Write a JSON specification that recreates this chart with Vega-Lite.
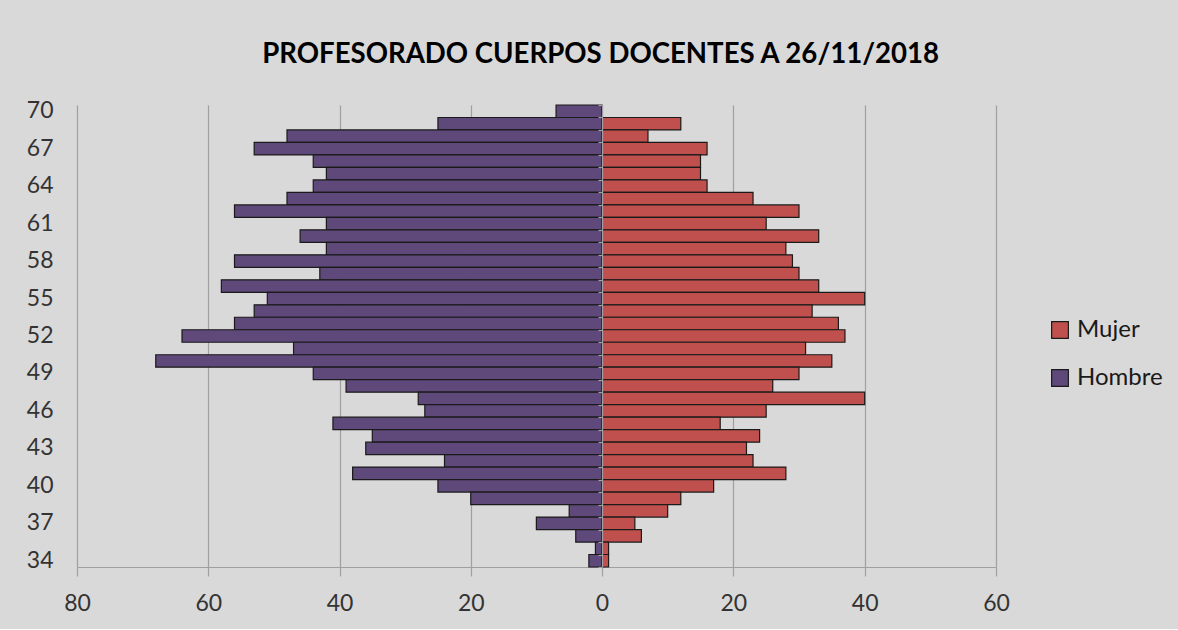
{
  "$schema": "https://vega.github.io/schema/vega-lite/v6.json",
  "background": "#d9d9d9",
  "padding": {"left": 26, "top": 41, "right": 17, "bottom": 14},
  "title": {
    "text": "PROFESORADO CUERPOS DOCENTES A 26/11/2018",
    "font": "Lato",
    "fontSize": 27.6,
    "fontWeight": "bold",
    "color": "#000000",
    "anchor": "middle",
    "offset": 31,
    "dx": 6
  },
  "config": {
    "view": {"stroke": null},
    "font": "Lato",
    "axis": {
      "labelFont": "Lato",
      "labelFontSize": 23,
      "labelColor": "#333333",
      "labelFlush": false,
      "labelOverlap": false,
      "gridColor": "#a0a0a0",
      "gridWidth": 1.2,
      "domainColor": "#a0a0a0",
      "domainWidth": 1.2,
      "tickColor": "#a0a0a0",
      "tickWidth": 1.2,
      "title": null
    },
    "legend": {
      "orient": "none",
      "legendX": 971,
      "legendY": 213,
      "title": null,
      "labelFont": "Lato",
      "labelFontSize": 24,
      "labelColor": "#1a1a1a",
      "symbolType": "square",
      "symbolSize": 280,
      "symbolStrokeColor": "#1a1a1a",
      "symbolStrokeWidth": 1.2,
      "rowPadding": 24,
      "labelOffset": 5
    }
  },
  "data": {
    "values": [
      {"edad": 70, "sexo": "Hombre", "n": 7}, {"edad": 70, "sexo": "Mujer", "n": 0},
      {"edad": 69, "sexo": "Hombre", "n": 25}, {"edad": 69, "sexo": "Mujer", "n": 12},
      {"edad": 68, "sexo": "Hombre", "n": 48}, {"edad": 68, "sexo": "Mujer", "n": 7},
      {"edad": 67, "sexo": "Hombre", "n": 53}, {"edad": 67, "sexo": "Mujer", "n": 16},
      {"edad": 66, "sexo": "Hombre", "n": 44}, {"edad": 66, "sexo": "Mujer", "n": 15},
      {"edad": 65, "sexo": "Hombre", "n": 42}, {"edad": 65, "sexo": "Mujer", "n": 15},
      {"edad": 64, "sexo": "Hombre", "n": 44}, {"edad": 64, "sexo": "Mujer", "n": 16},
      {"edad": 63, "sexo": "Hombre", "n": 48}, {"edad": 63, "sexo": "Mujer", "n": 23},
      {"edad": 62, "sexo": "Hombre", "n": 56}, {"edad": 62, "sexo": "Mujer", "n": 30},
      {"edad": 61, "sexo": "Hombre", "n": 42}, {"edad": 61, "sexo": "Mujer", "n": 25},
      {"edad": 60, "sexo": "Hombre", "n": 46}, {"edad": 60, "sexo": "Mujer", "n": 33},
      {"edad": 59, "sexo": "Hombre", "n": 42}, {"edad": 59, "sexo": "Mujer", "n": 28},
      {"edad": 58, "sexo": "Hombre", "n": 56}, {"edad": 58, "sexo": "Mujer", "n": 29},
      {"edad": 57, "sexo": "Hombre", "n": 43}, {"edad": 57, "sexo": "Mujer", "n": 30},
      {"edad": 56, "sexo": "Hombre", "n": 58}, {"edad": 56, "sexo": "Mujer", "n": 33},
      {"edad": 55, "sexo": "Hombre", "n": 51}, {"edad": 55, "sexo": "Mujer", "n": 40},
      {"edad": 54, "sexo": "Hombre", "n": 53}, {"edad": 54, "sexo": "Mujer", "n": 32},
      {"edad": 53, "sexo": "Hombre", "n": 56}, {"edad": 53, "sexo": "Mujer", "n": 36},
      {"edad": 52, "sexo": "Hombre", "n": 64}, {"edad": 52, "sexo": "Mujer", "n": 37},
      {"edad": 51, "sexo": "Hombre", "n": 47}, {"edad": 51, "sexo": "Mujer", "n": 31},
      {"edad": 50, "sexo": "Hombre", "n": 68}, {"edad": 50, "sexo": "Mujer", "n": 35},
      {"edad": 49, "sexo": "Hombre", "n": 44}, {"edad": 49, "sexo": "Mujer", "n": 30},
      {"edad": 48, "sexo": "Hombre", "n": 39}, {"edad": 48, "sexo": "Mujer", "n": 26},
      {"edad": 47, "sexo": "Hombre", "n": 28}, {"edad": 47, "sexo": "Mujer", "n": 40},
      {"edad": 46, "sexo": "Hombre", "n": 27}, {"edad": 46, "sexo": "Mujer", "n": 25},
      {"edad": 45, "sexo": "Hombre", "n": 41}, {"edad": 45, "sexo": "Mujer", "n": 18},
      {"edad": 44, "sexo": "Hombre", "n": 35}, {"edad": 44, "sexo": "Mujer", "n": 24},
      {"edad": 43, "sexo": "Hombre", "n": 36}, {"edad": 43, "sexo": "Mujer", "n": 22},
      {"edad": 42, "sexo": "Hombre", "n": 24}, {"edad": 42, "sexo": "Mujer", "n": 23},
      {"edad": 41, "sexo": "Hombre", "n": 38}, {"edad": 41, "sexo": "Mujer", "n": 28},
      {"edad": 40, "sexo": "Hombre", "n": 25}, {"edad": 40, "sexo": "Mujer", "n": 17},
      {"edad": 39, "sexo": "Hombre", "n": 20}, {"edad": 39, "sexo": "Mujer", "n": 12},
      {"edad": 38, "sexo": "Hombre", "n": 5}, {"edad": 38, "sexo": "Mujer", "n": 10},
      {"edad": 37, "sexo": "Hombre", "n": 10}, {"edad": 37, "sexo": "Mujer", "n": 5},
      {"edad": 36, "sexo": "Hombre", "n": 4}, {"edad": 36, "sexo": "Mujer", "n": 6},
      {"edad": 35, "sexo": "Hombre", "n": 1}, {"edad": 35, "sexo": "Mujer", "n": 1},
      {"edad": 34, "sexo": "Hombre", "n": 2}, {"edad": 34, "sexo": "Mujer", "n": 1}
    ]
  },
  "spacing": 0,
  "bounds": "flush",
  "resolve": {"scale": {"color": "shared"}},
  "hconcat": [
    {
      "width": 525,
      "height": 462,
      "transform": [{"filter": "datum.sexo === 'Hombre'"}],
      "mark": {"type": "bar", "stroke": "#1a1a1a", "strokeWidth": 1.2},
      "encoding": {
        "y": {
          "field": "edad",
          "type": "ordinal",
          "sort": "descending",
          "scale": {"paddingInner": 0, "paddingOuter": 0},
          "axis": {
            "values": [70, 67, 64, 61, 58, 55, 52, 49, 46, 43, 40, 37, 34],
            "domain": false,
            "ticks": false,
            "labelPadding": 24,
            "labelAngle": 0
          }
        },
        "x": {
          "field": "n",
          "type": "quantitative",
          "scale": {"domain": [0, 80], "reverse": true, "nice": false},
          "axis": {
            "values": [0, 20, 40, 60, 80],
            "grid": true,
            "tickSize": 9,
            "labelPadding": 16
          }
        },
        "color": {
          "field": "sexo",
          "type": "nominal",
          "scale": {"domain": ["Mujer", "Hombre"], "range": ["#c0504d", "#5f497a"]}
        }
      }
    },
    {
      "width": 394,
      "height": 462,
      "transform": [{"filter": "datum.sexo === 'Mujer'"}],
      "mark": {"type": "bar", "stroke": "#1a1a1a", "strokeWidth": 1.2},
      "encoding": {
        "y": {
          "field": "edad",
          "type": "ordinal",
          "sort": "descending",
          "scale": {"paddingInner": 0, "paddingOuter": 0},
          "axis": {
            "labels": false,
            "domain": true,
            "ticks": true,
            "tickBand": "extent",
            "tickSize": 4,
            "grid": false,
            "zindex": 1
          }
        },
        "x": {
          "field": "n",
          "type": "quantitative",
          "scale": {"domain": [0, 60], "nice": false},
          "axis": {
            "values": [20, 40, 60],
            "grid": true,
            "tickSize": 9,
            "labelPadding": 16
          }
        },
        "color": {
          "field": "sexo",
          "type": "nominal",
          "scale": {"domain": ["Mujer", "Hombre"], "range": ["#c0504d", "#5f497a"]}
        }
      }
    }
  ]
}
